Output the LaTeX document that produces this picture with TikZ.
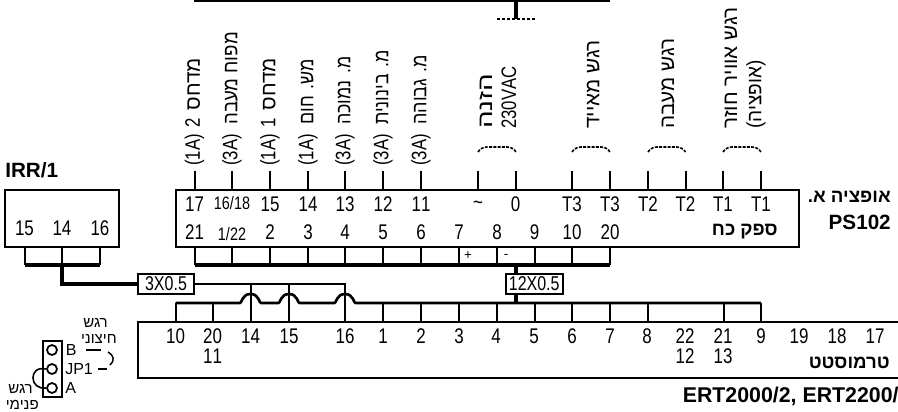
\documentclass[tikz,border=0pt]{standalone}
\usepackage{graphicx}
\usepackage{fontspec}
\TeXXeTstate=1
\setmainfont[Script=Hebrew]{Liberation Sans}
\newfontfamily\nar[FakeStretch=0.8,Script=Hebrew]{Liberation Sans}
\newcommand{\he}[1]{\beginR #1\endR}
\newcommand{\hr}[2][1]{\scalebox{#1}[1]{\normalfont\fontsize{15.5}{16}\selectfont\beginR #2\endR}}
\newcommand{\hb}[1]{{\fontsize{14}{16}\selectfont\beginR #1\endR}}
\tikzset{
  num/.style={font=\nar\fontsize{15.9}{16}\selectfont,inner sep=0pt,anchor=center},
  smallnum/.style={font=\nar\fontsize{13.5}{14}\selectfont,inner sep=0pt,anchor=center},
  rot/.style={font=\nar\fontsize{15.7}{16}\selectfont,inner sep=0pt,rotate=90,anchor=west},
  bold/.style={font=\bfseries\fontsize{15.5}{17}\selectfont,inner sep=0pt},
  small/.style={font=\fontsize{11.3}{12}\selectfont,inner sep=0pt},
  jpl/.style={font=\fontsize{12}{13}\selectfont,inner sep=0pt,anchor=west},
  panel/.style={draw,line width=1.5pt,inner sep=0pt},
  wire/.style={line width=1.5pt},
  bus/.style={line width=2.3pt},
  cable/.style={draw,line width=1.5pt,fill=white,inner sep=0pt,font=\nar\fontsize{15}{15}\selectfont,minimum height=15pt},
  dashwire/.style={line width=1.5pt,dash pattern=on 2.5pt off 1.2pt},
}
\begin{document}
\begin{tikzpicture}[x=0.75pt,y=-0.75pt,line cap=butt]
\useasboundingbox (0,0) rectangle (898,411);
% top
\coordinate (topl) at (194,0.5); \coordinate (topr) at (610,0.5); \coordinate (tops) at (516,0.5);
\coordinate (topd) at (516,19); \coordinate (dl) at (497,19); \coordinate (dr) at (535,19);
\draw[bus] (topl) -- (topr);
\draw[bus] (tops) -- (topd);
\draw[dashwire] (dl) -- (dr);
% boxes
\draw[panel] (175.5,189.5) rectangle (799,246.5);
\coordinate (psT) at (0,189.5); \coordinate (psB) at (0,246.5);
\draw[panel] (5,189.5) rectangle (119,246.5);
\draw[panel] (898,322) -- (137.5,322) -- (137.5,378) -- (898,378);
\coordinate (thT) at (0,322);
% PS102 top terminals
\foreach \n/\x/\t in {a/194.5/17,c/270/15,d/308/14,e/345/13,f/383/12,g/421/11,i/515.7/0,j/572/T3,k/610/T3,l/648/T2,m/685.5/T2,n/723/T1,o/761/T1}{
  \node[num] (pst\n) at (\x,204) {\t};
}
\node[smallnum] (pstb) at (232,203) {16/18};
\node[num] (psth) at (478,205) {\char"7E};
\foreach \n/\x in {a/194.5,b/232,c/270,d/308,e/345,f/383,g/421,h/478,i/515.7,j/572,k/610,l/648,m/685.5,n/723,o/761}{
  \coordinate (tt\n) at (\x,171);
  \draw[wire] (tt\n) -- (tt\n|-psT);
}
% PS102 bottom terminals
\foreach \n/\x/\t in {a/194.5/21,c/270/2,d/308/3,e/345/4,f/383/5,g/421/6,h/459/7,i/497/8,j/534.7/9,k/572/10,l/610/20}{
  \node[num] (psb\n) at (\x,232) {\t};
}
\node[smallnum] (psbb) at (232,234) {1/22};
\coordinate (busA) at (194.5,265); \coordinate (busB) at (610,265);
\draw[bus] (busA) -- (busB);
\foreach \n/\x in {a/194.5,b/232,c/270,d/308,e/345,f/383,g/421,h/459,i/497,j/534.7,k/572,l/610}{
  \coordinate (bb\n) at (\x,265);
  \draw[wire] (bb\n|-psB) -- (bb\n);
}
\node[inner sep=0pt,font=\fontsize{10}{12}\selectfont] (plus) at (468,256) {+};
\node[inner sep=0pt,font=\fontsize{10}{12}\selectfont] (minus) at (506,256) {-};
% IRR
\foreach \n/\x/\t in {a/24.5/15,b/62/14,c/100/16}{
  \node[num] (ir\n) at (\x,228) {\t};
  \coordinate (ib\n) at (\x,265);
  \draw[wire] (ib\n|-psB) -- (ib\n);
}
\draw[bus] (iba) -- (ibc);
\node[bold,anchor=west] (irr) at (5,170) {IRR/1};
% cables
\node[cable,minimum width=42pt] (c3) at (166,284) {3X0.5};
\node[cable,minimum width=42.5pt] (c12) at (534.2,284) {12X0.5};
\coordinate (c12s) at (516,265); \coordinate (c12e) at (516,303);
\draw[bus] (c12s) -- (c12s|-c12.north);
\draw[bus] (c12s|-c12.south) -- (c12e);
\draw[bus,line join=miter] (ibb) -- (62,284) -- (c3.west);
% thermostat
\foreach \n/\x/\t in {a/175.5/10,b/212.5/20,c/250.5/14,d/289/15,e/345/16,f/383/1,g/421/2,h/459/3,i/496/4,j/534/5,k/572/6,l/610/7,m/647/8,n/685/22,o/723/21,p/761/9,q/799/19,r/837/18,s/875/17}{
  \node[num] (th\n) at (\x,336.5) {\t};
}
\node[num] (thb2) at (212.5,356.5) {11};
\node[num] (thn2) at (685,356.5) {12};
\node[num] (tho2) at (723,356.5) {13};
% feeder 3 wires
\draw[wire,line join=miter] (c3.east) -- (345,284) -- (345,322);
\foreach \x in {250.5,289}{ \draw[wire] (\x,284) -- (\x,322); }
% bottom bus with hops
\draw[line width=2pt,line join=round] (175.5,303) -- (240,303)
  .. controls (242,303) and (242,294) .. (250.5,294) .. controls (259,294) and (259,303) .. (261,303)
  -- (278.5,303)
  .. controls (280.5,303) and (280.5,294) .. (289,294) .. controls (297.5,294) and (297.5,303) .. (299.5,303)
  -- (334.5,303)
  .. controls (336.5,303) and (336.5,294) .. (345,294) .. controls (353.5,294) and (353.5,303) .. (355.5,303)
  -- (761,303);
\foreach \x in {175.5,213,383,421,459,497,534.7,572,610,648,723.7,761}{ \draw[wire] (\x,303) -- (\x,322); }
% rotated labels
\node[rot] (l17) at (194.5,166) {(1A)\hspace{1.5pt} 2\hspace{2.5pt} \hr{מדחס}};
\node[rot] (l16) at (232,166) {(3A)\hspace{3.5pt} \hr[0.9]{מפוח מעבה}};
\node[rot] (l15) at (270,166) {(1A)\hspace{1.5pt} 1\hspace{2.5pt} \hr{מדחס}};
\node[rot] (l14) at (308,166) {(1A)\hspace{3.5pt} \hr[0.87]{מש. חום}};
\node[rot] (l13) at (345,166) {(3A)\hspace{3.5pt} \hr[0.86]{מ. נמוכה}};
\node[rot] (l12) at (383,166) {(3A)\hspace{3.5pt} \hr[0.87]{מ. בינונית}};
\node[rot] (l11) at (421,166) {(3A)\hspace{3.5pt} \hr[0.87]{מ. גבוהה}};
\node[rot] (lh) at (486,129) {\hr[1.35]{הזנה}};
\node[rot] (lv) at (509,129) {230VAC};
\node[rot] (lm) at (593,129) {\hr{רגש מאייד}};
\node[rot] (le) at (668,129) {\hr{רגש מעבה}};
\node[rot] (la) at (731,129) {\hr{רגש אוויר חוזר}};
\node[rot] (lo) at (756,129) {\hr[0.92]{(אופציה)}};
% dashed braces
\foreach \a/\b in {478/516,572/610,648/685.5,723/761}{
  \draw[line width=1.2pt,dash pattern=on 2.2pt off 1pt] (\a,152) .. controls (\a+2,149) and (\a+5,147) .. (\a+9,147) -- (\b-9,147) .. controls (\b-5,147) and (\b-2,149) .. (\b,152);
}
% bold labels
\node[bold,anchor=east] (opt) at (891,197) {\hb{אופציה א.}};
\node[bold,anchor=east] (ps) at (891,222) {PS102};
\node[bold,anchor=east] (sup) at (778,232) {\hb{ספק כח}};
\node[bold,anchor=east] (therm) at (890,363) {\hb{טרמוסטט}};
\node[bold,anchor=west,font=\bfseries\fontsize{16}{17}\selectfont] (ert) at (682.5,396) {ERT2000/2, ERT2200/};
% JP1
\node[draw,line width=1.5pt,minimum width=14pt,minimum height=42pt,inner sep=0pt] (jp) at (52.5,369) {};
\foreach \n/\y in {b/350,m/369,a/388}{ \node[draw,circle,line width=1.3pt,minimum size=7.5pt,inner sep=0pt] (p\n) at (52,\y) {}; }
\node[jpl] (jb) at (65.5,350) {B};
\node[jpl] (jm) at (65,369) {JP1};
\node[jpl] (ja) at (65,388) {A};
\draw[line width=1.2pt] (pm.west) .. controls (36,367) and (33,373) .. (33,378) .. controls (33,384) and (38,389) .. (pa.west);
\coordinate (d1a) at (86,350); \coordinate (d1b) at (101,350); \coordinate (d2a) at (98,369); \coordinate (d2b) at (107,369);
\draw[line width=1.2pt] (d1a) -- (d1b);
\draw[line width=1.2pt] (d2a) -- (d2b);
\coordinate (j1) at (108,352); \coordinate (j2) at (110,365);
\draw[line width=1.1pt] (j1) .. controls (114,355) and (115,361) .. (j2);
\node[small,anchor=east] (t1) at (108,323) {\he{רגש}};
\node[small,anchor=east] (t2) at (117,339) {\he{חיצוני}};
\node[small,anchor=east] (t3) at (33,389) {\he{רגש}};
\node[small,anchor=east] (t4) at (39,405) {\he{פנימי}};
\end{tikzpicture}
\end{document}
